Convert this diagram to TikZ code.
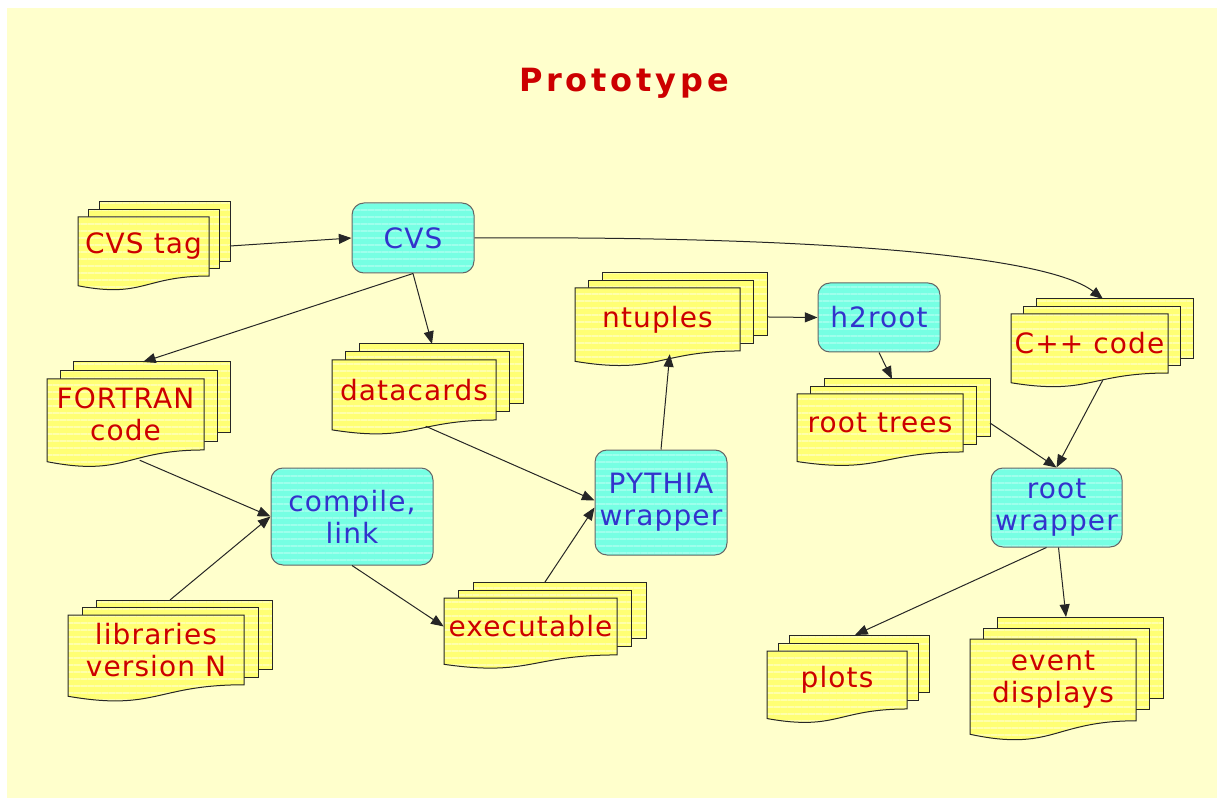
\documentclass[tikz,border=0pt]{standalone}
\usepackage{fontspec}
\setmainfont{DejaVu Sans}[LetterSpace=4]
\newfontfamily\titlefont{DejaVu Sans}[LetterSpace=12]
\usetikzlibrary{arrows.meta,calc,patterns.meta}
\definecolor{bg}{HTML}{FFFFCC}
\definecolor{docfill}{HTML}{FFFF74}
\definecolor{docstripe}{HTML}{FFFFAC}
\definecolor{boxfill}{HTML}{76FFE3}
\definecolor{boxstripe}{HTML}{9EFFEC}
\definecolor{txtred}{HTML}{CC0000}
\definecolor{txtblue}{HTML}{3333CC}
\tikzset{
  page/.style={preaction={fill=docfill},
    pattern={Lines[angle=0,distance=5.25pt,line width=2pt]}, pattern color=docstripe,
    draw=black!85, line width=0.75pt},
  procbox/.style={rounded corners=9pt, preaction={fill=boxfill},
    pattern={Lines[angle=0,distance=5.25pt,line width=2pt]}, pattern color=boxstripe,
    draw=black!60, line width=0.75pt, inner sep=0pt,
    text=txtblue, font=\fontsize{21}{24}\selectfont, align=center},
  dtext/.style={text=txtred, font=\fontsize{21}{24}\selectfont, align=center, inner sep=0pt},
  anchorbox/.style={inner sep=0pt, outer sep=0pt},
  arr/.style={draw=black!85, line width=0.75pt, -{Triangle[length=9.5pt,width=7.5pt]}},
}
% #1 name #2 x0 #3 y0 #4 w #5 h #6 dx #7 dy #8 text
\newcommand\docstack[8]{%
  \pgfmathsetmacro\dsR{#3+0.802*#5}%
  \pgfmathsetmacro\dsL{#3+0.934*#5}%
  \pgfmathsetmacro\dsC{#3+1.108*#5}%
  \pgfmathsetmacro\dsM{#2+0.5*#4}%
  \pgfmathsetmacro\dsE{#2+#4}%
  \pgfmathsetmacro\dsY{#3+0.401*#5}%
  \path[page] (#2+2*#6, #3-2*#7) rectangle (\dsE+2*#6, \dsR-2*#7);
  \path[page] (#2+#6, #3-#7) rectangle (\dsE+#6, \dsR-#7);
  \path[page] (#2,#3) -- (\dsE,#3) -- (\dsE,\dsR) .. controls (\dsM,\dsR) and (\dsM,\dsC) .. (#2,\dsL) -- cycle;
  \node[dtext, minimum width={#4*0.75pt}, minimum height={0.802*#5*0.75pt}] (#1) at (\dsM,\dsY) {#8};
  \node[anchorbox, minimum width={#4*0.75pt}, minimum height={0.802*#5*0.75pt}] (#1b) at (\dsM+2*#6,\dsY-2*#7) {};
}
% #1 name #2 x0 #3 y0 #4 x1 #5 y1 #6 text
\newcommand\procnode[6]{%
  \node[procbox, minimum width={(#4-#2)*0.75pt}, minimum height={(#5-#3)*0.75pt}] (#1) at ({(#2+#4)/2},{(#3+#5)/2}) {#6};
}
\begin{document}
\begin{tikzpicture}[x=0.75pt,y=-0.75pt]
\useasboundingbox (0,0) rectangle (1217,798);
\fill[white] (0,0) rectangle (1217,798);
\fill[bg] (7,8) rectangle (1217,798);
\node[text=txtred, font=\titlefont\bfseries\fontsize{24}{28}\selectfont] (title) at (624,83) {Prototype};

\docstack{cvstag}{78}{217}{131}{73.6}{10.5}{7.5}{CVS tag}
\docstack{ntuples}{575}{288}{165}{78.5}{13.5}{7.5}{ntuples}
\docstack{fortran}{47}{379}{157}{88.5}{13}{8.5}{FORTRAN\\code}
\docstack{datacards}{332}{360}{164}{74.8}{13.5}{8}{datacards}
\docstack{cpp}{1011}{314}{157}{73.6}{12.5}{7.5}{C++ code}
\docstack{roottrees}{797}{394}{166}{72.3}{13.5}{7.5}{root trees}
\docstack{libraries}{68}{615}{176}{87}{14}{7.5}{libraries\\version N}
\docstack{executable}{444}{598}{173}{71}{14.5}{8}{executable}
\docstack{plots}{767}{651}{140}{72.3}{11}{8}{plots}
\docstack{event}{970}{639}{166}{102}{13.5}{11}{event\\displays}

\procnode{cvs}{352}{203}{474}{273}{CVS}
\procnode{h2root}{818}{283}{940}{352}{h2root}
\procnode{pythia}{595}{450}{727}{555}{PYTHIA\\wrapper}
\procnode{compile}{271}{468}{433}{565}{compile,\\link}
\procnode{rootwrap}{991}{468}{1122}{547}{root\\wrapper}

\draw[arr] ($(cvstagb.north east)+(0,44)$) -- (cvs.west);
\draw[arr] (cvs.east) .. controls (760,236) and (1040,250) .. ($(cppb.north west)+(67,0)$);
\draw[arr] (cvs.south) -- ($(fortranb.north west)+(70,0)$);
\draw[arr] (cvs.south) -- ($(datacardsb.north west)+(73,0)$);
\draw[arr] ($(fortran.south west)+(93,10)$) -- (compile.west);
\draw[arr] ($(librariesb.north west)+(74,0)$) -- (compile.west);
\draw[arr] (compile.south) -- (executable.west);
\draw[arr] ($(datacards.south west)+(94,6)$) -- ($(pythia.west)+(0,-2)$);
\draw[arr] ($(executableb.north west)+(72,0)$) -- ($(pythia.west)+(0,5)$);
\draw[arr] (pythia.north) -- ($(ntuples.south west)+(95,3)$);
\draw[arr] ($(ntuplesb.east)+(0,12.5)$) -- (h2root.west);
\draw[arr] (h2root.south) -- ($(roottreesb.north west)+(68,0)$);
\draw[arr] ($(roottreesb.north east)+(0,44)$) -- (rootwrap.north);
\draw[arr] ($(cpp.south west)+(92,7)$) -- (rootwrap.north);
\draw[arr] ($(rootwrap.south)+(-10,0)$) -- ($(plotsb.north west)+(66,0)$);
\draw[arr] ($(rootwrap.south)+(2,0)$) -- ($(eventb.north west)+(69,0)$);
\end{tikzpicture}
\end{document}
